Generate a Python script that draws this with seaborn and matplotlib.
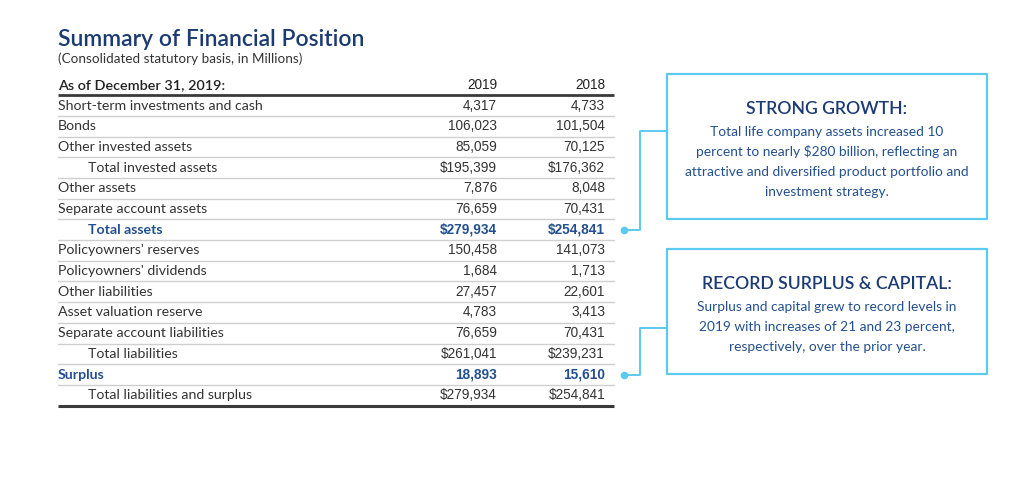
import numpy as np
import pandas as pd
import matplotlib.pyplot as plt
import seaborn as sns

# table data (in millions)
labels = ["Short-term investments and cash", "Bonds", "Other invested assets",
          "Total invested assets", "Other assets", "Separate account assets",
          "Total assets", "Policyowners' reserves", "Policyowners' dividends",
          "Other liabilities", "Asset valuation reserve",
          "Separate account liabilities", "Total liabilities", "Surplus",
          "Total liabilities and surplus"]
v2019 = [4317, 106023, 85059, 195399, 7876, 76659, 279934, 150458, 1684,
         27457, 4783, 76659, 261041, 18893, 279934]
v2018 = [4733, 101504, 70125, 176362, 8048, 70431, 254841, 141073, 1713,
         22601, 3413, 70431, 239231, 15610, 254841]
years = ["2019", "2018"]

indented = ["Total invested assets", "Total assets", "Total liabilities",
            "Total liabilities and surplus"]
dollar_rows = ["Total invested assets", "Total assets", "Total liabilities",
               "Total liabilities and surplus"]
highlight = ["Total assets", "Surplus"]

box1_title = "STRONG GROWTH:"
box1_text = ["Total life company assets increased 10",
             "percent to nearly $280 billion, reflecting an",
             "attractive and diversified product portfolio and",
             "investment strategy."]
box2_title = "RECORD SURPLUS & CAPITAL:"
box2_text = ["Surplus and capital grew to record levels in",
             "2019 with increases of 21 and 23 percent,",
             "respectively, over the prior year."]

df = pd.DataFrame({"label": labels, "2019": v2019, "2018": v2018})

sns.set_theme(style="white")
plt.rcParams['font.family'] = ['Lato', 'DejaVu Sans']

navy = "#1b3b72"
blue = "#24508f"
grey_txt = "#333333"
cyan = "#5ccaee"
num_font = "Liberation Sans"

fig = plt.figure(figsize=(10.24, 4.84), dpi=100)
ax = fig.add_axes([0, 0, 1, 1])
ax.set_xlim(0, 1024)
ax.set_ylim(484, 0)
ax.axis("off")

left, right = 58, 614
col_x = [497, 605]
y0, step = 105.5, 20.7

# titles
ax.text(left, 40, "Summary of Financial Position", fontsize=16.5, color=navy,
        fontweight="semibold", va="center")
ax.text(left, 59, "(Consolidated statutory basis, in Millions)", fontsize=9.7,
        color=grey_txt, va="center")

# header
ax.text(left, 85, "As of December 31, 2019:", fontsize=10.4, color="#222222",
        fontweight="semibold", va="center")
for x, yr in zip(col_x, years):
    ax.text(x, 85, yr, fontsize=9.8, color="#222222", ha="right", va="center",
            family=num_font)
ax.plot([left, right], [94.5, 94.5], color="#3a3a3a", lw=2, solid_capstyle="butt")

# rows
for i, row in df.iterrows():
    y = y0 + i * step
    lab = row["label"]
    hl = lab in highlight
    c = blue if hl else grey_txt
    x = left + 30 if lab in indented else left
    ax.text(x, y, lab, fontsize=10.2, color=c, va="center",
            fontweight="bold" if hl else "normal")
    for xc, yr in zip(col_x, years):
        val = f"{row[yr]:,}"
        if lab in dollar_rows:
            val = "$" + val
        ax.text(xc, y, val, fontsize=9.8, color=c, ha="right", va="center",
                family=num_font, fontweight="bold" if hl else "normal")
    yl = y + step / 2
    if i == len(df) - 1:
        ax.plot([left, right], [yl, yl], color="#3a3a3a", lw=2.2,
                solid_capstyle="butt")
    else:
        ax.plot([left, right], [yl, yl], color="#cfcfcf", lw=1)

# callout boxes
bx0, bx1 = 667, 987
for (top, bot, title, body, ty) in [(74, 219, box1_title, box1_text, 109),
                                    (249, 374, box2_title, box2_text, 284)]:
    ax.plot([bx0, bx1, bx1, bx0, bx0], [top, top, bot, bot, top], color=cyan,
            lw=1.6)
    cx = (bx0 + bx1) / 2
    ax.text(cx, ty, title, fontsize=12.7, color=navy, ha="center", va="center",
            fontweight="semibold")
    for j, line in enumerate(body):
        ax.text(cx, ty + 23 + j * 20, line, fontsize=9.9, color=blue,
                ha="center", va="center")

# connectors from highlighted rows to the boxes
ya = y0 + labels.index("Total assets") * step
ys = y0 + labels.index("Surplus") * step
for yrow, ybox in [(ya, 131), (ys, 328)]:
    ax.plot([624, 640, 640, bx0], [yrow, yrow, ybox, ybox], color=cyan, lw=1.4)
    ax.plot(624, yrow, "o", color=cyan, ms=4.5)

fig.savefig("out.png", dpi=100, facecolor="white")
